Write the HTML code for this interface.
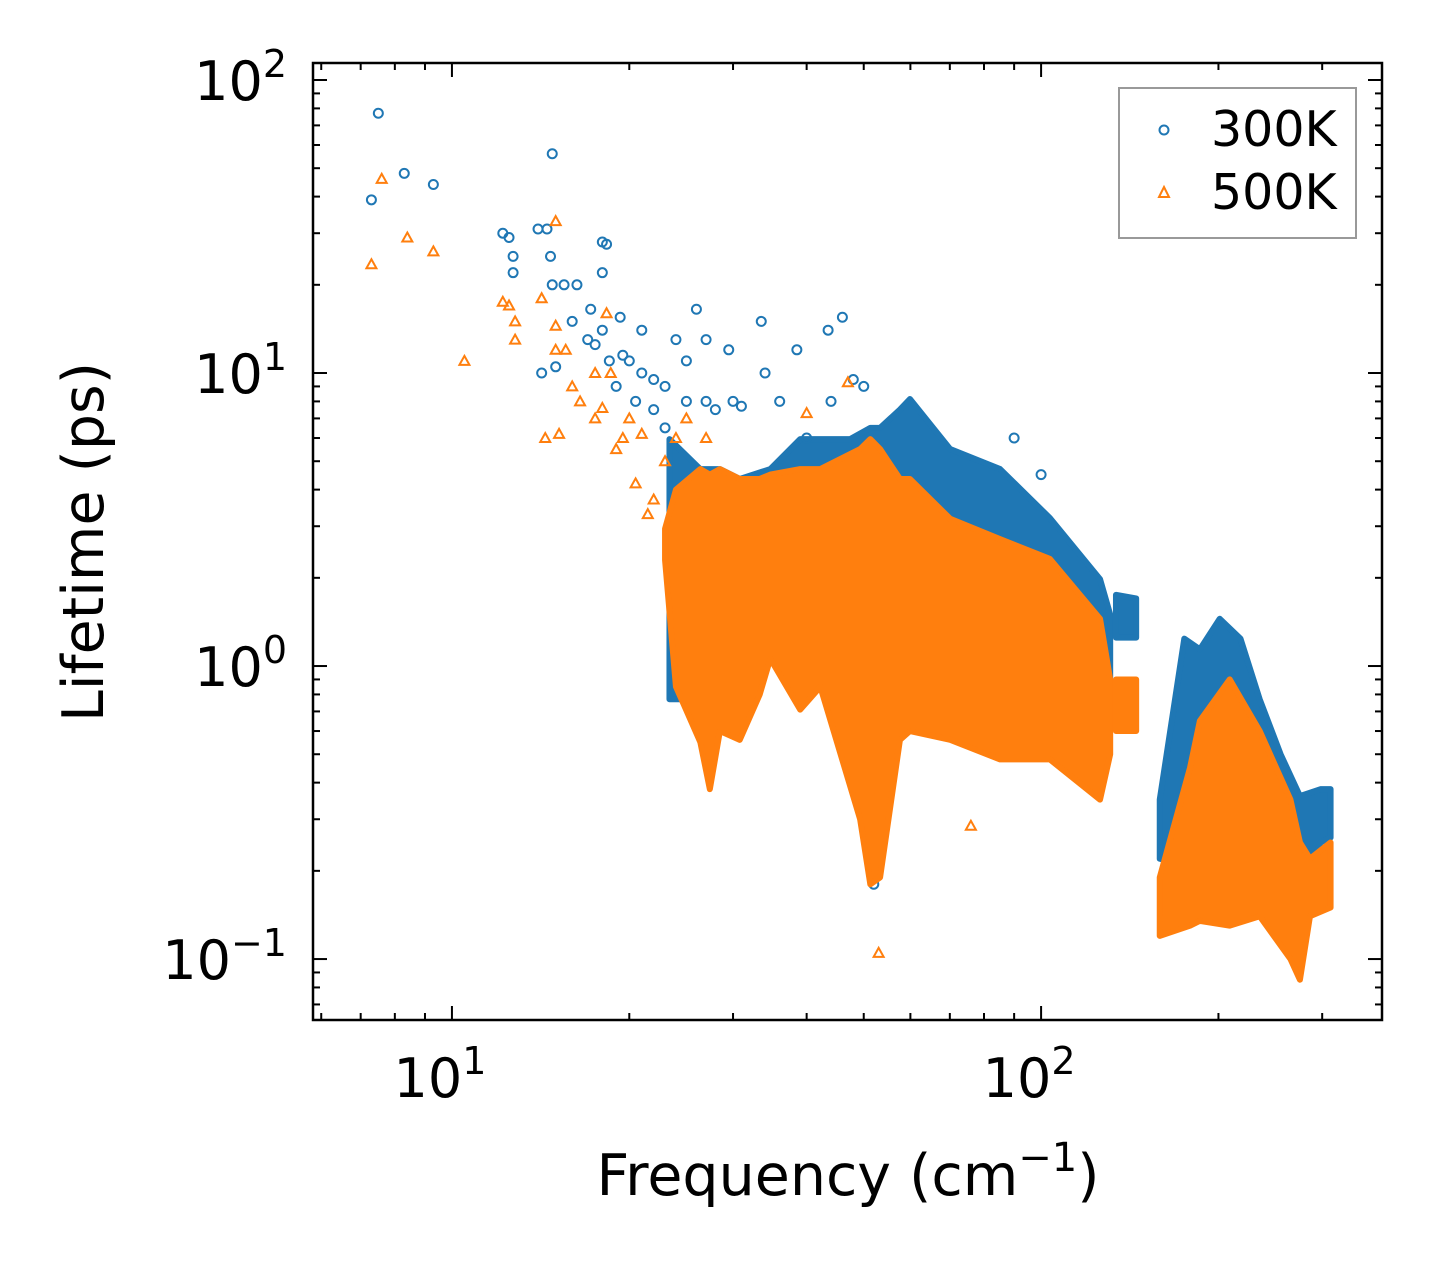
<!DOCTYPE html>
<html><head><meta charset="utf-8"><style>
html,body{margin:0;padding:0;background:#fff;}
svg{display:block;font-family:"DejaVu Sans","Liberation Sans",sans-serif;}
</style></head><body>
<svg id="chart" width="1442" height="1269" viewBox="0 0 1442 1269" xmlns="http://www.w3.org/2000/svg">
<rect width="1442" height="1269" fill="#fff"/>
<defs><clipPath id="clip"><rect x="313" y="63" width="1069" height="957"/></clipPath></defs>
<g id="marks" clip-path="url(#clip)"></g>
<g id="axes"></g>
<text x="848" y="1195" font-size="57" text-anchor="middle">Frequency (cm<tspan dy="-24" font-size="40">−1</tspan><tspan dy="24">)</tspan></text>
<text transform="translate(103,542) rotate(-90)" font-size="57" text-anchor="middle">Lifetime (ps)</text>
<g>
<rect x="1119" y="88" width="237" height="150" fill="#fff" stroke="#999" stroke-width="2"/>
<circle cx="1164" cy="130" r="4.5" fill="none" stroke="#1f77b4" stroke-width="2"/>
<text x="1211" y="146" font-size="49">300K</text>
<polygon points="1164,187 1169,197 1159,197" fill="none" stroke="#ff7f0e" stroke-width="2"/>
<text x="1211" y="209" font-size="49">500K</text>
</g>
</svg>
<script>
// sparse points [frequency, lifetime]
const sparse300 = [[7.3,39],[7.5,77],[8.3,48],[9.3,44],[12.2,30],[12.5,29],[12.7,25],[12.7,22],[14.0,31],[14.5,31],[14.8,56],[14.7,25],[14.8,20],[15.5,20],[16.3,20],[17.2,16.5],[18,28],[18.3,27.5],[18,22],[19.3,15.5],[21,14],[14.2,10],[15,10.5],[16,15],[17,13],[17.5,12.5],[18,14],[18.5,11],[19,9],[19.5,11.5],[20,11],[20.5,8],[21,10],[22,9.5],[23,9],[24,13],[25,11],[26,16.5],[27,13],[29.5,12],[33.5,15],[34,10],[38.5,12],[43.5,14],[46,15.5],[22,7.5],[23,6.5],[25,8],[27,8],[28,7.5],[30,8],[31,7.7],[36,8],[40,6],[44,8],[48,9.5],[50,9],[52,0.18],[90,6],[100,4.5]];
const sparse500 = [[7.3,23.5],[7.6,46],[8.4,29],[9.3,26],[10.5,11],[12.2,17.5],[12.5,17],[12.8,15],[12.8,13],[14.2,18],[14.4,6],[15,33],[15,14.5],[15,12],[15.2,6.2],[15.6,12],[16,9],[16.5,8],[17.5,10],[17.5,7],[18,7.6],[18.3,16],[18.6,10],[19,5.5],[19.5,6],[20,7],[20.5,4.2],[21,6.2],[21.5,3.3],[22,3.7],[23,5],[24,6],[25,7],[27,6],[40,7.3],[47,9.3],[53,0.105],[76,0.285]];
// dense-region envelopes [frequency, low, high]
const dense300 = [
 [[23.4,0.77,5.95],[26.4,0.77,4.7],[28.5,0.66,4.7],[30.8,0.9,4.35],[34.7,1.06,4.7],[39.0,1.14,5.95],[47.4,1.06,5.95],[51.3,0.2,6.5],[53.3,0.6,6.5],[57.6,0.83,7.5],[59.9,0.9,8.15],[70.1,0.835,5.5],[85.2,0.835,4.7],[103.5,0.77,3.2],[125.9,0.66,1.98],[131,0.7,1.5]],
 [[134,1.25,1.75],[145,1.25,1.7]],
 [[159,0.22,0.35],[175,0.21,1.24],[186,0.22,1.14],[201,0.22,1.45],[218,0.23,1.24],[235,0.22,0.77],[255,0.2,0.5],[275,0.16,0.36],[298,0.25,0.38],[310,0.26,0.38]]
];
const dense500 = [
 [[23.0,2.3,2.94],[24.0,0.85,4.0],[26.4,0.55,4.7],[27.4,0.38,4.5],[28.5,0.6,4.7],[30.8,0.56,4.35],[33.3,0.8,4.35],[34.7,1.06,4.5],[39.0,0.71,4.7],[42.2,0.85,4.7],[49.3,0.3,5.5],[51.3,0.18,5.95],[53.3,0.19,5.5],[57.6,0.56,4.35],[59.9,0.6,4.35],[70.1,0.56,3.18],[85.2,0.48,2.71],[103.5,0.48,2.32],[125.9,0.35,1.45],[131,0.5,0.9]],
 [[134,0.6,0.9],[145,0.6,0.9]],
 [[159,0.12,0.19],[179,0.13,0.45],[186,0.135,0.65],[209,0.13,0.9],[235,0.14,0.6],[265,0.1,0.35],[275,0.085,0.25],[286,0.14,0.22],[310,0.15,0.25]]
];
const xTicks = [10,100];
const yTicks = [0.1,1,10,100];
const xTickLabels = ["1","2"];
const yTickLabels = ["−1","0","1","2"];

const NS="http://www.w3.org/2000/svg";
const L=313,R=1382,T=63,B=1020;
const xmin=Math.log10(5.81),xmax=Math.log10(379),ymin=-1.208,ymax=2.058;
function X(f){return L+(Math.log10(f)-xmin)/(xmax-xmin)*(R-L);}
function Y(v){return B-(Math.log10(v)-ymin)/(ymax-ymin)*(B-T);}
function mk(tag,attrs,parent){const e=document.createElementNS(NS,tag);for(const k in attrs)e.setAttribute(k,attrs[k]);parent.appendChild(e);return e;}
const marks=document.getElementById('marks'),axes=document.getElementById('axes');
const C1="#1f77b4",C2="#ff7f0e";
function drawDense(groups,color,name){
 groups.forEach(g=>{
  const up=g.map(p=>X(p[0])+','+Y(p[2]));
  const lo=g.slice().reverse().map(p=>X(p[0])+','+Y(p[1]));
  const poly=mk('polygon',{points:up.concat(lo).join(' '),fill:color,stroke:color,'stroke-width':6,'stroke-linejoin':'round'},marks);
  
  
 });
}
drawDense(dense300,C1,'dense-region-300k');
sparse300.forEach(p=>{
 const c=mk('circle',{cx:X(p[0]),cy:Y(p[1]),r:4.5,fill:'none',stroke:C1,'stroke-width':2},marks);
 
 
});
drawDense(dense500,C2,'dense-region-500k');
sparse500.forEach(p=>{
 const x=X(p[0]),y=Y(p[1]);
 const t=mk('polygon',{points:`${x},${y-5} ${x+5},${y+4} ${x-5},${y+4}`,fill:'none',stroke:C2,'stroke-width':2},marks);
 
 
});
// frame
const fr=mk('rect',{x:L,y:T,width:R-L,height:B-T,fill:'none',stroke:'#000','stroke-width':2.5},axes);


// ticks
for(let d=-2;d<=3;d++){
 for(let m=1;m<10;m++){
  const v=m*Math.pow(10,d);
  const len=m===1?14:7;
  const lx=Math.log10(v);
  if(lx>=xmin&&lx<=xmax){const x=X(v);
   mk('line',{x1:x,y1:B,x2:x,y2:B-len,stroke:'#000','stroke-width':2},axes);
   mk('line',{x1:x,y1:T,x2:x,y2:T+len,stroke:'#000','stroke-width':2},axes);}
  if(lx>=ymin&&lx<=ymax){const y=Y(v);
   mk('line',{x1:L,y1:y,x2:L+len,y2:y,stroke:'#000','stroke-width':2},axes);
   mk('line',{x1:R,y1:y,x2:R-len,y2:y,stroke:'#000','stroke-width':2},axes);}
 }
}
xTicks.forEach((v,i)=>{
 const t=mk('text',{x:X(v)-12,y:1097,'font-size':54,'text-anchor':'middle'},axes);
 
 
 t.innerHTML='10<tspan dy="-23" font-size="38">'+xTickLabels[i]+'</tspan>';
});
yTicks.forEach((v,i)=>{
 const t=mk('text',{x:287,y:Y(v)+20,'font-size':54,'text-anchor':'end'},axes);
 
 
 t.innerHTML='10<tspan dy="-23" font-size="38">'+yTickLabels[i]+'</tspan>';
});
</script>
</body></html>
